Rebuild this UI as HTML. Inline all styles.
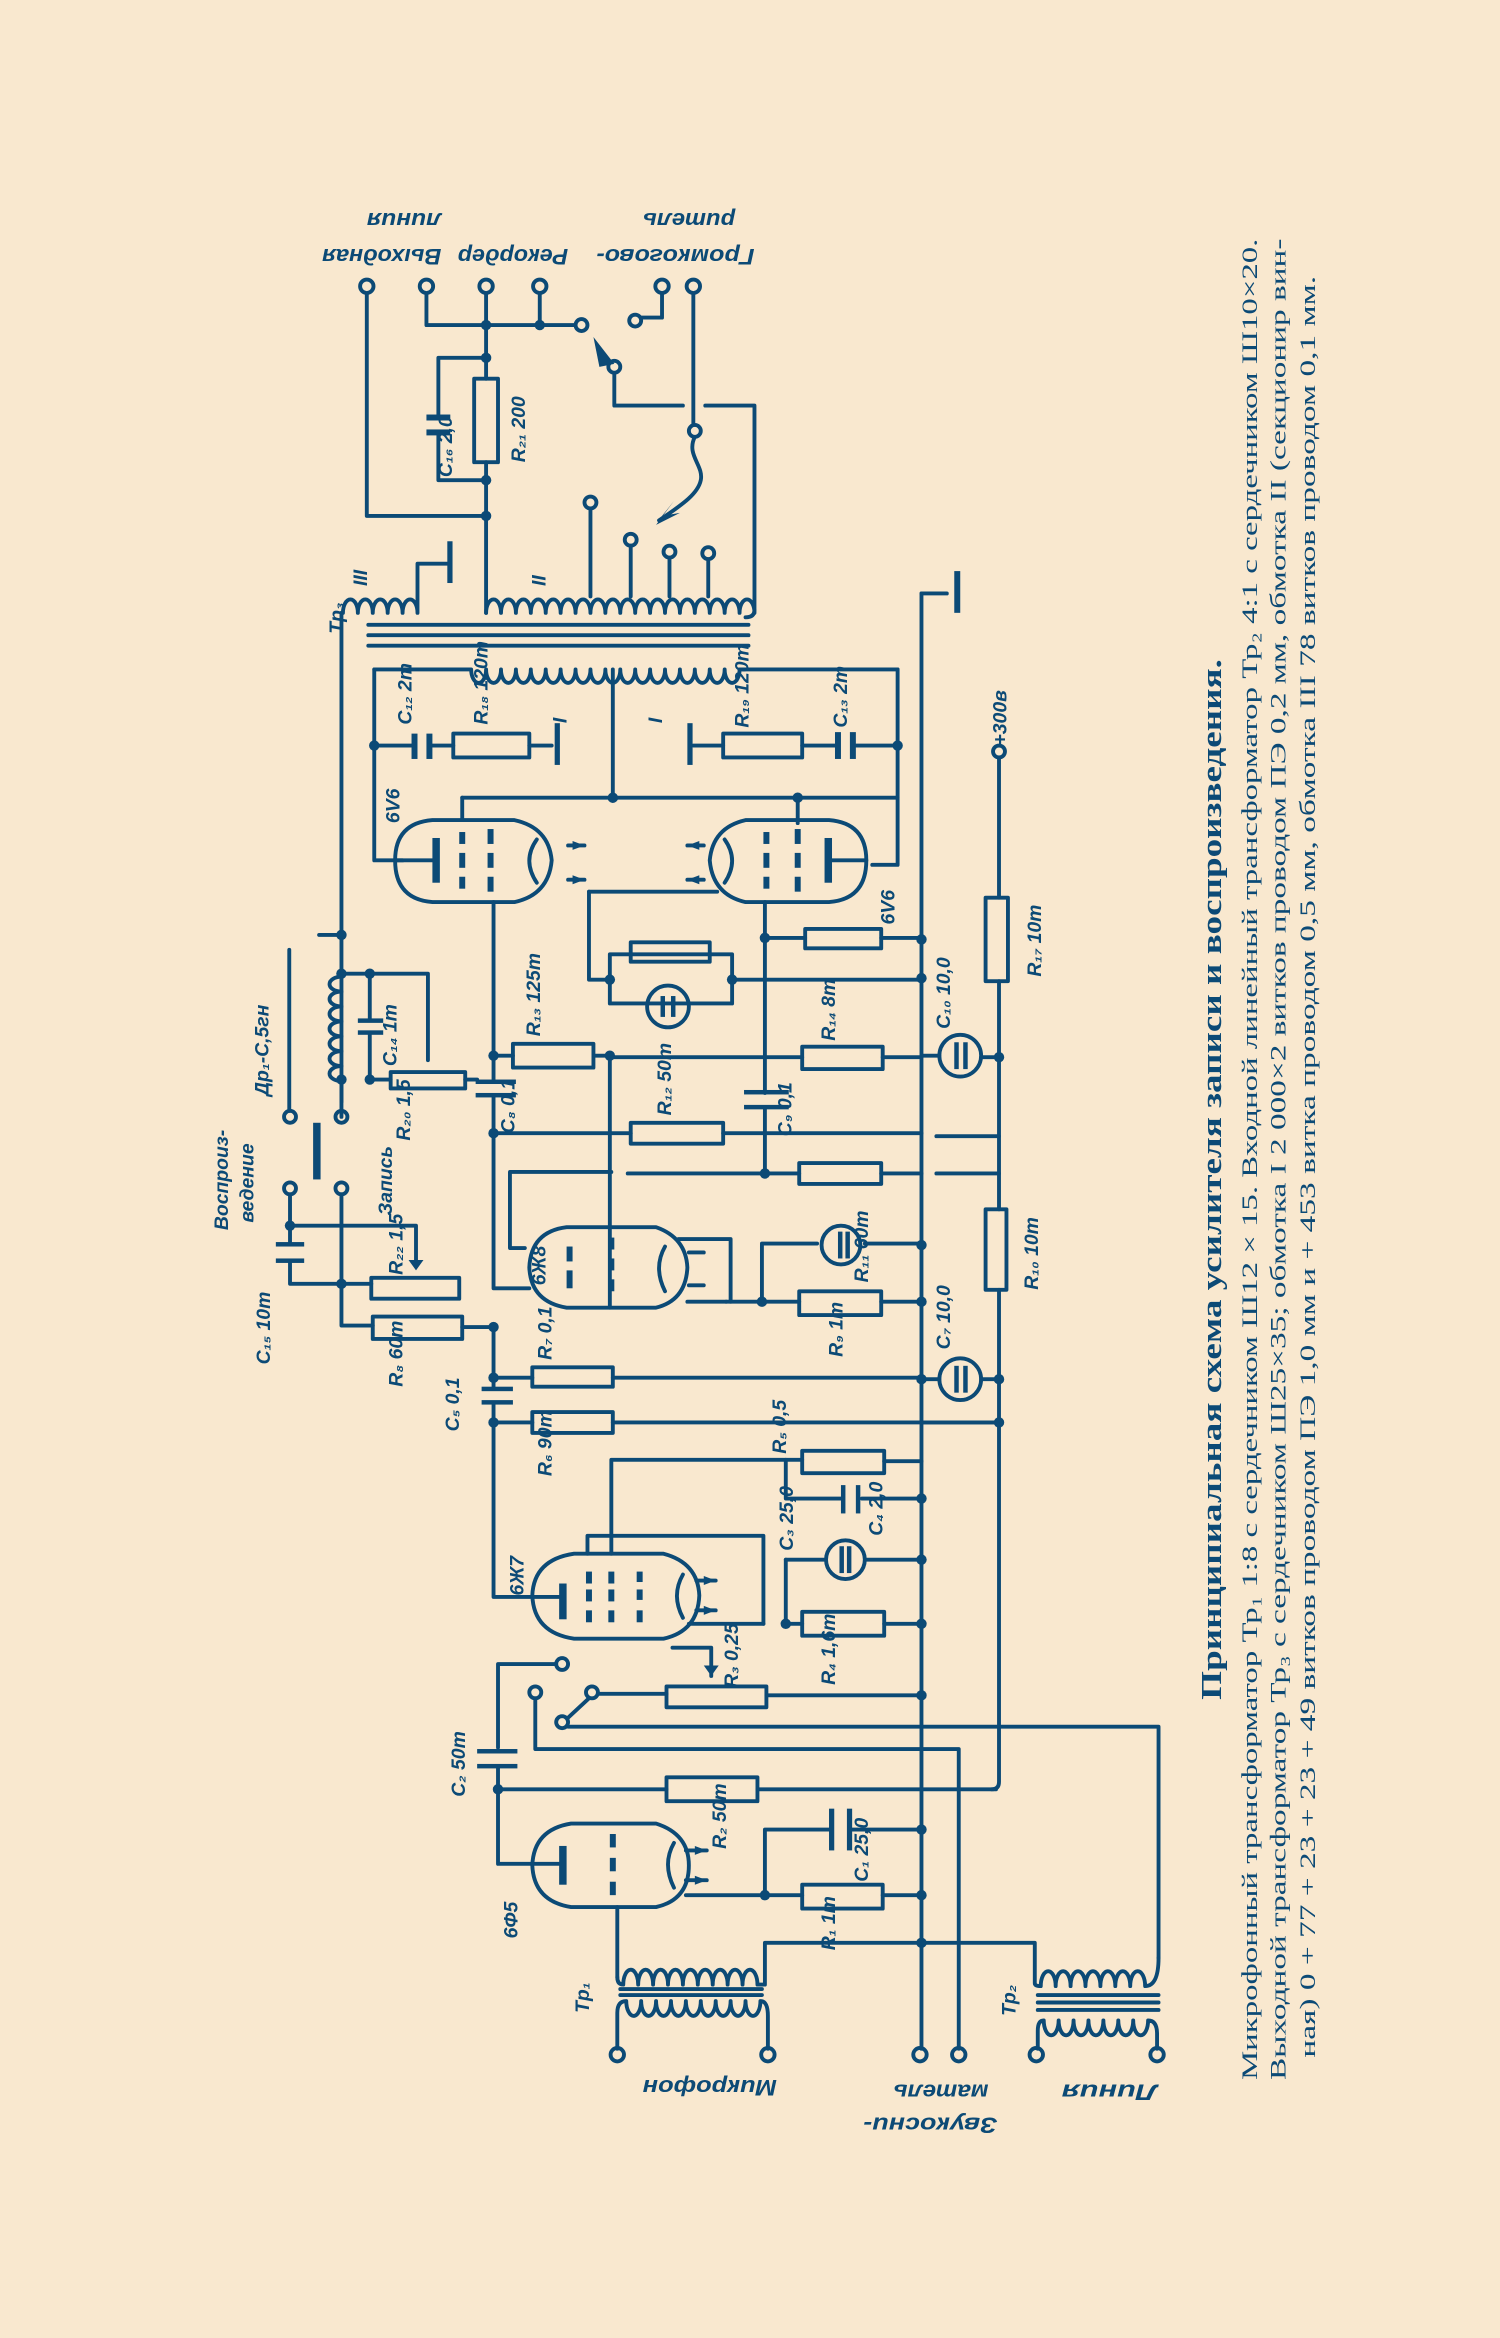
<!DOCTYPE html>
<html><head><meta charset="utf-8">
<style>
html,body{margin:0;padding:0;background:#f9e8cf;}
svg{display:block;}
.w{fill:none;stroke:#0c4a76;stroke-width:2.6;stroke-linecap:round;stroke-linejoin:round;}
.f{fill:#0c4a76;stroke:none;}
.lb{font-family:"Liberation Sans","DejaVu Sans",sans-serif;font-style:italic;font-weight:bold;fill:#0c4a76;}
.cap{font-family:"Liberation Serif","DejaVu Serif",serif;fill:#0c4a76;}
</style></head>
<body>
<svg width="1500" height="2338" viewBox="0 0 1006 1568" xmlns="http://www.w3.org/2000/svg">
<rect x="0" y="0" width="1006" height="1568" fill="#f9e8cf"/>

<g class="w">
  <circle cx="246" cy="192" r="4.5"/><circle cx="286" cy="192" r="4.5"/><circle cx="326" cy="192" r="4.5"/>
  <circle cx="362" cy="192" r="4.5"/><circle cx="444" cy="192" r="4.5"/><circle cx="465" cy="192" r="4.5"/>
  <path d="M246,197 V346 H326"/>
  <path d="M286,197 V218 H386"/>
  <path d="M362,197 V218"/>
  <path d="M326,197 V254"/>
  <rect x="318" y="254" width="16" height="56"/>
  <path d="M326,310 V411"/>
  <path d="M326,240 H294 V280 M294,290 V322 H326"/>
  <path d="M444,197 V213 H430"/>
  <circle cx="426" cy="215" r="4"/>
  <circle cx="390" cy="218" r="4"/>
  <circle cx="412" cy="246" r="4"/>
  <path d="M412,250 V272 H458"/>
  <path d="M465,197 V285"/>
  <circle cx="466" cy="289" r="4"/>
  <path d="M466,293 C460,305 472,312 470,322 C468,332 455,340 442,349"/>
  <path d="M473,272 H506 V409 Q506,414 500,414"/>
  <circle cx="396" cy="337" r="4"/><path d="M396,341 V400"/>
  <circle cx="423" cy="362" r="4"/><path d="M423,366 V400"/>
  <circle cx="449" cy="370" r="4"/><path d="M449,374 V400"/>
  <circle cx="475" cy="371" r="4"/><path d="M475,375 V400"/>
  <path d="M326,411 a5,9 0 1,1 10,0 a5,9 0 1,1 10,0 a5,9 0 1,1 10,0 a5,9 0 1,1 10,0 a5,9 0 1,1 10,0 a5,9 0 1,1 10,0 a5,9 0 1,1 10,0 a5,9 0 1,1 10,0 a5,9 0 1,1 10,0 a5,9 0 1,1 10,0 a5,9 0 1,1 10,0 a5,9 0 1,1 10,0 a5,9 0 1,1 10,0 a5,9 0 1,1 10,0 a5,9 0 1,1 10,0 a5,9 0 1,1 10,0 a5,9 0 1,1 10,0 a5,9 0 1,1 10,0"/>
  <path d="M230,411 a5,9 0 1,1 10,0 a5,9 0 1,1 10,0 a5,9 0 1,1 10,0 a5,9 0 1,1 10,0 a5,9 0 1,1 10,0 V378 H300"/>
  <path d="M247,419 H502 M247,426 H502 M247,433 H502"/>
  <path d="M251,449 H316 a5,9 0 1,0 10,0 a5,9 0 1,0 10,0 a5,9 0 1,0 10,0 a5,9 0 1,0 10,0 a5,9 0 1,0 10,0 a5,9 0 1,0 10,0 a5,9 0 1,0 10,0 a5,9 0 1,0 10,0 a5,9 0 1,0 10,0 a5,9 0 1,0 10,0 a5,9 0 1,0 10,0 a5,9 0 1,0 10,0 a5,9 0 1,0 10,0 a5,9 0 1,0 10,0 a5,9 0 1,0 10,0 a5,9 0 1,0 10,0 a5,9 0 1,0 10,0 a5,9 0 1,0 10,0 H602"/>
  <path d="M229,411 V739"/>
  <path d="M214,627 H229"/>
</g>
<g class="f">
  <circle cx="326" cy="218" r="3.5"/><circle cx="362" cy="218" r="3.5"/><circle cx="326" cy="240" r="3.5"/>
  <circle cx="326" cy="322" r="3.5"/><circle cx="326" cy="346" r="3.5"/>
  <rect x="286" y="278" width="16" height="4"/><rect x="286" y="288" width="16" height="4"/>
  <rect x="300" y="363" width="3.5" height="28"/>
  <polygon points="398,226 412,244 402,246"/>
  <polygon points="440,352 452,336 444,346 456,344"/>
</g>

<g class="w">
  <path d="M251,449 V577 H270"/>
  <path d="M251,500 H276 M290,500 H304"/>
  <rect x="304" y="492" width="51" height="16"/>
  <path d="M355,500 H370"/>
  <path d="M411,449 V535"/>
  <path d="M310,535 H602"/>
  <path d="M310,535 V550"/>
  <path d="M602,449 V580 H585"/>
  <path d="M602,500 H574 M560,500 H538"/>
  <rect x="485" y="492" width="53" height="16"/>
  <path d="M485,500 H465"/>
  <path d="M535,535 V552"/>
  <path d="M290,550 H345 Q368,555 370,577 Q368,600 345,605 H290 Q265,603 265,577 Q265,552 290,550 Z"/>
  <path d="M265,577 H292"/>
  <path d="M360,563 Q350,577 360,592" />
  <path d="M381,567 H392 M381,590 H392"/>
  <path d="M500,550 H556 Q581,552 581,577 Q581,603 556,605 H500 Q478,600 476,577 Q478,555 500,550 Z"/>
  <path d="M555,577 H581"/>
  <path d="M486,563 Q496,577 486,592"/>
  <path d="M461,567 H472 M461,590 H472"/>
  <path d="M395,598 H481"/>
  <path d="M331,605 V725 M331,735 V864 H355"/>
  <path d="M395,598 V657 H409"/>
  <path d="M409,640 V673 H491 V640 H409"/>
  <rect x="423" y="632" width="53" height="13"/>
  <circle cx="448" cy="675" r="14"/>
  <path d="M491,657 H618"/>
  <path d="M513,605 V733 M513,743 V787"/>
  <path d="M513,629 H540"/><rect x="540" y="623" width="51" height="13"/><path d="M591,629 H618"/>
  <path d="M331,708 H344"/><rect x="344" y="700" width="54" height="16"/><path d="M398,708 H409 V877"/>
  <path d="M409,709 H538"/><rect x="538" y="702" width="54" height="15"/><path d="M592,709 H618"/>
  <path d="M331,760 H423"/><rect x="423" y="753" width="62" height="14"/><path d="M485,760 H618"/>
  <path d="M421,787 H536"/><rect x="536" y="780" width="55" height="14"/><path d="M591,787 H618"/>
  <path d="M229,653 H287 V711"/>
  <path d="M229,655 a8,5 0 1,0 0,10 a8,5 0 1,0 0,10 a8,5 0 1,0 0,10 a8,5 0 1,0 0,10 a8,5 0 1,0 0,10 a8,5 0 1,0 0,10 a8,5 0 1,0 0,10 V749"/>
  <path d="M248,653 V683 M248,694 V724 H262"/>
  <rect x="262" y="719" width="50" height="11"/>
  <path d="M312,724 H320"/>
  <path d="M194,637 V745"/>
  <circle cx="194.5" cy="749" r="4"/><circle cx="229" cy="749" r="4"/>
  <circle cx="194.5" cy="797" r="4"/><circle cx="229" cy="797" r="4"/>
  <path d="M194.5,801 V833 M194.5,847 V861 H249"/>
  <path d="M194.5,822 H279 V848"/>
  <rect x="249" y="857" width="59" height="14"/>
  <path d="M229,801 V889 H250"/>
  <rect x="250" y="883" width="60" height="15"/>
  <path d="M310,890 H331"/>
  <path d="M331,888 V931 M331,941 V1071 H357"/>
  <path d="M331,924 H357"/><rect x="357" y="917" width="54" height="13"/><path d="M411,924 H618"/>
  <path d="M331,954 H357"/><rect x="357" y="947" width="54" height="14"/><path d="M411,954 H668"/>
  <path d="M380,823 H440 Q460,830 461,850 Q460,872 440,877 H380 Q356,873 355,850 Q356,826 380,823 Z"/>
  <path d="M342,786 H410 M342,786 V837 H352"/>
  <path d="M446,836 Q438,850 446,866"/>
  <path d="M455,831 H490 V873"/>
  <path d="M462,840 H472 M462,862 H472"/>
  <path d="M511,834 H548 M511,834 V873"/>
  <circle cx="564" cy="835" r="13"/>
  <path d="M580,834 H618"/>
  <path d="M487,873 H536"/><rect x="536" y="866" width="55" height="16"/><path d="M591,873 H618"/>
  <path d="M461,873 H487"/>
  <path d="M385,1042 H445 Q468,1048 469,1070 Q468,1094 445,1099 H385 Q358,1095 357,1070 Q358,1046 385,1042 Z"/>
  <path d="M357,1071 H375"/>
  <path d="M394,1042 V1030 H512 V1089"/>
  <path d="M410,1042 V979 H538"/><rect x="538" y="973" width="55" height="15"/><path d="M593,980 H618"/>
  <path d="M527,979 V1005 H565 M578,1005 H618"/>
  <path d="M527,1046 H553"/><circle cx="567" cy="1046" r="13"/><path d="M581,1046 H618"/>
  <path d="M527,1046 V1089 H538"/><rect x="538" y="1081" width="55" height="16"/><path d="M593,1089 H618"/>
  <path d="M458,1056 Q450,1070 458,1085"/>
  <path d="M462,1089 H512"/>
  <path d="M467,1060 H480 M467,1080 H480"/>
  <path d="M451,1105 H477 V1124"/>
  <rect x="447" y="1131" width="67" height="14"/>
  <path d="M401,1136 H447 M514,1137 H618"/>
  <circle cx="377" cy="1116" r="4"/><circle cx="359" cy="1135" r="4"/>
  <circle cx="397" cy="1135" r="4"/><circle cx="377" cy="1155" r="4"/>
  <path d="M381,1152 L395,1139"/>
  <path d="M381,1158 H777 V1313"/>
  <path d="M359,1139 V1173 H643 V1374"/>
  <path d="M373,1116 H334 V1172 M334,1185 V1250 H357"/>
  <path d="M334,1200 H447"/><rect x="447" y="1192" width="61" height="16"/><path d="M508,1200 H668"/>
  <path d="M383,1223 H440 Q462,1230 462,1251 Q462,1274 440,1279 H383 Q358,1275 357,1251 Q358,1227 383,1223 Z"/>
  <path d="M357,1250 H375"/>
  <path d="M452,1236 Q444,1250 452,1266"/>
  <path d="M460,1241 H474 M460,1261 H474"/>
  <path d="M460,1271 H538"/><rect x="538" y="1264" width="54" height="16"/><path d="M592,1271 H618"/>
  <path d="M513,1271 V1227 H556 M570,1227 H618"/>
  <path d="M414,1279 V1326"/>
  <path d="M414,1326 Q414,1331 418,1331 a5,10 0 1,1 10,0 a5,10 0 1,1 10,0 a5,10 0 1,1 10,0 a5,10 0 1,1 10,0 a5,10 0 1,1 10,0 a5,10 0 1,1 10,0 a5,10 0 1,1 10,0 a5,10 0 1,1 10,0 a5,10 0 1,1 10,0 H513 V1303 H694 V1330 Q694,1332 698,1332 a5,10 0 1,1 10,0 a5,10 0 1,1 10,0 a5,10 0 1,1 10,0 a5,10 0 1,1 10,0 a5,10 0 1,1 10,0 a5,10 0 1,1 10,0 a5,10 0 1,1 10,0 Q777,1332 777,1313"/>
  <path d="M416,1334 H511 M416,1338 H511"/>
  <path d="M414,1374 V1350 Q414,1342 420,1342 a5,10 0 1,0 10,0 a5,10 0 1,0 10,0 a5,10 0 1,0 10,0 a5,10 0 1,0 10,0 a5,10 0 1,0 10,0 a5,10 0 1,0 10,0 a5,10 0 1,0 10,0 a5,10 0 1,0 10,0 a5,10 0 1,0 10,0 Q515,1342 515,1352 V1374"/>
  <path d="M696,1338 H777 M696,1343 H777 M696,1348 H777"/>
  <path d="M696,1374 V1362 Q696,1355 700,1355 a5,10 0 1,0 10,0 a5,10 0 1,0 10,0 a5,10 0 1,0 10,0 a5,10 0 1,0 10,0 a5,10 0 1,0 10,0 a5,10 0 1,0 10,0 a5,10 0 1,0 10,0 Q776,1355 776,1364 V1374"/>
  <circle cx="414" cy="1378" r="4.5"/><circle cx="515" cy="1378" r="4.5"/>
  <circle cx="617" cy="1378" r="4.5"/><circle cx="643" cy="1378" r="4.5"/>
  <circle cx="695" cy="1378" r="4.5"/><circle cx="776" cy="1378" r="4.5"/>
  <path d="M618,398 V1374"/>
  <path d="M618,398 H635"/>
  <path d="M670,508 V602"/><rect x="661" y="602" width="15" height="56"/><path d="M670,658 V811"/>
  <rect x="661" y="811" width="14" height="54"/><path d="M670,865 V1195 Q670,1200 665,1200"/>
  <circle cx="670" cy="504" r="4"/>
  <circle cx="644" cy="708" r="14"/><circle cx="644" cy="925" r="14"/>
  <path d="M618,925 H630 M658,925 H670 M618,954 H670"/>
  <path d="M618,708 H630 M658,709 H670"/>
  <path d="M628,762 H670 M628,787 H670"/>
</g>
<g class="f">
  <circle cx="251" cy="500" r="3.5"/><circle cx="411" cy="535" r="3.5"/><circle cx="535" cy="535" r="3.5"/><circle cx="602" cy="500" r="3.5"/>
  <circle cx="229" cy="627" r="3.5"/><circle cx="229" cy="653" r="3.5"/><circle cx="248" cy="653" r="3.5"/><circle cx="248" cy="724" r="3.5"/><circle cx="229" cy="724" r="3.5"/>
  <circle cx="331" cy="708" r="3.5"/><circle cx="409" cy="708" r="3.5"/><circle cx="409" cy="657" r="3.5"/><circle cx="491" cy="657" r="3.5"/>
  <circle cx="513" cy="629" r="3.5"/><circle cx="513" cy="787" r="3.5"/><circle cx="331" cy="760" r="3.5"/>
  <circle cx="618" cy="630" r="3.5"/><circle cx="618" cy="656" r="3.5"/><circle cx="618" cy="835" r="3.5"/><circle cx="618" cy="873" r="3.5"/><circle cx="618" cy="925" r="3.5"/>
  <circle cx="511" cy="873" r="3.5"/><circle cx="670" cy="709" r="3.5"/><circle cx="670" cy="925" r="3.5"/><circle cx="670" cy="954" r="3.5"/>
  <circle cx="194.5" cy="822" r="3.5"/><circle cx="229" cy="861" r="3.5"/><circle cx="331" cy="890" r="3.5"/><circle cx="331" cy="924" r="3.5"/><circle cx="331" cy="954" r="3.5"/>
  <circle cx="618" cy="1005" r="3.5"/><circle cx="618" cy="1046" r="3.5"/><circle cx="618" cy="1089" r="3.5"/><circle cx="527" cy="1089" r="3.5"/><circle cx="618" cy="1137" r="3.5"/>
  <circle cx="334" cy="1200" r="3.5"/><circle cx="513" cy="1271" r="3.5"/><circle cx="618" cy="1271" r="3.5"/><circle cx="618" cy="1227" r="3.5"/><circle cx="618" cy="1303" r="3.5"/>
  <rect x="276" y="492" width="4" height="17"/><rect x="286" y="492" width="4" height="17"/>
  <rect x="560" y="491" width="4" height="18"/><rect x="570" y="491" width="4" height="18"/>
  <rect x="372" y="485" width="3.5" height="28"/><rect x="461" y="485" width="3.5" height="28"/>
  <rect x="640" y="383" width="4" height="28"/>
  <rect x="290" y="562" width="5" height="30"/>
  <rect x="308" y="558" width="4" height="8"/><rect x="308" y="572" width="4" height="10"/><rect x="308" y="588" width="4" height="8"/>
  <rect x="327" y="556" width="4" height="10"/><rect x="327" y="572" width="4" height="10"/><rect x="327" y="588" width="4" height="10"/>
  <rect x="553" y="562" width="5" height="30"/>
  <rect x="512" y="558" width="4" height="8"/><rect x="512" y="572" width="4" height="10"/><rect x="512" y="588" width="4" height="8"/>
  <rect x="533" y="556" width="4" height="10"/><rect x="533" y="572" width="4" height="10"/><rect x="533" y="588" width="4" height="10"/>
  <rect x="240" y="683" width="17" height="3"/><rect x="240" y="691" width="17" height="3"/>
  <rect x="319" y="724" width="27" height="3"/><rect x="319" y="733" width="27" height="3"/>
  <rect x="499" y="731" width="30" height="3"/><rect x="499" y="741" width="30" height="3"/>
  <rect x="185" y="833" width="19" height="3"/><rect x="185" y="844" width="19" height="3"/>
  <rect x="210" y="753" width="5" height="38"/>
  <rect x="323" y="930" width="21" height="3"/><rect x="323" y="939" width="21" height="3"/>
  <rect x="564" y="996" width="3" height="19"/><rect x="574" y="996" width="3" height="19"/>
  <rect x="320" y="1173" width="27" height="3"/><rect x="320" y="1183" width="27" height="3"/>
  <rect x="556" y="1213" width="3.5" height="28"/><rect x="568" y="1213" width="3.5" height="28"/>
  <rect x="375" y="1062" width="5" height="24"/>
  <rect x="393" y="1054" width="4" height="8"/><rect x="393" y="1066" width="4" height="8"/><rect x="393" y="1080" width="4" height="8"/>
  <rect x="408" y="1054" width="4" height="8"/><rect x="408" y="1066" width="4" height="8"/><rect x="408" y="1080" width="4" height="8"/>
  <rect x="427" y="1054" width="4" height="7"/><rect x="427" y="1066" width="4" height="7"/><rect x="427" y="1080" width="4" height="8"/>
  <rect x="375" y="1238" width="5" height="26"/>
  <rect x="409" y="1230" width="4" height="9"/><rect x="409" y="1246" width="4" height="9"/><rect x="409" y="1262" width="4" height="9"/>
  <rect x="380" y="836" width="4" height="10"/><rect x="380" y="852" width="4" height="12"/>
  <rect x="408" y="830" width="4" height="8"/><rect x="408" y="844" width="4" height="8"/><rect x="408" y="858" width="4" height="8"/>
  <rect x="562" y="826" width="3" height="18"/><rect x="567" y="826" width="3" height="18"/>
  <rect x="563" y="1037" width="3" height="18"/><rect x="568" y="1037" width="3" height="18"/>
  <rect x="640" y="699" width="3" height="18"/><rect x="646" y="699" width="3" height="18"/>
  <rect x="640" y="916" width="3" height="18"/><rect x="646" y="916" width="3" height="18"/>
  <rect x="443" y="668" width="3" height="14"/><rect x="450" y="668" width="3" height="14"/>
  <polygon points="274,845 284,845 279,852"/>
  <polygon points="472,1117 482,1117 477,1124"/>
  <polygon points="392,567 384,564 384,570"/><polygon points="392,590 384,587 384,593"/>
  <polygon points="461,567 469,564 469,570"/><polygon points="461,590 469,587 469,593"/>
  <polygon points="480,1060 472,1057 472,1063"/><polygon points="480,1080 472,1077 472,1083"/>
  <polygon points="474,1241 466,1238 466,1244"/><polygon points="474,1261 466,1258 466,1264"/>
</g>

<g class="lb" font-size="15">
  <text transform="translate(256,167) rotate(180)" text-anchor="middle" textLength="80" lengthAdjust="spacingAndGlyphs">Выходная</text>
  <text transform="translate(271,143) rotate(180)" text-anchor="middle" textLength="50" lengthAdjust="spacingAndGlyphs">линия</text>
  <text transform="translate(344,167) rotate(180)" text-anchor="middle" textLength="74" lengthAdjust="spacingAndGlyphs">Рекордер</text>
  <text transform="translate(453,167) rotate(180)" text-anchor="middle" textLength="106" lengthAdjust="spacingAndGlyphs">Громкогово-</text>
  <text transform="translate(462,143) rotate(180)" text-anchor="middle" textLength="62" lengthAdjust="spacingAndGlyphs">ритель</text>
  <text transform="translate(476,1395) rotate(180)" text-anchor="middle" textLength="90" lengthAdjust="spacingAndGlyphs">Микрофон</text>
  <text transform="translate(624,1420) rotate(180)" text-anchor="middle" textLength="90" lengthAdjust="spacingAndGlyphs">Звукосни-</text>
  <text transform="translate(631,1398) rotate(180)" text-anchor="middle" textLength="64" lengthAdjust="spacingAndGlyphs">матель</text>
  <text transform="translate(744,1398) rotate(180)" text-anchor="middle" textLength="64" lengthAdjust="spacingAndGlyphs">Линия</text>
</g>
<g class="lb" font-size="13">
  <text transform="translate(303,320) rotate(-90)">C₁₆ 2,0</text>
  <text transform="translate(352,310) rotate(-90)">R₂₁ 200</text>
  <text transform="translate(246,393) rotate(-90)">III</text>
  <text transform="translate(366,393) rotate(-90)">II</text>
  <text transform="translate(230,425) rotate(-90)">Tp₃</text>
  <text transform="translate(276,486) rotate(-90)">C₁₂ 2m</text>
  <text transform="translate(327,486) rotate(-90)">R₁₈ 120m</text>
  <text transform="translate(380,485) rotate(-90)">I</text>
  <text transform="translate(444,485) rotate(-90)">I</text>
  <text transform="translate(502,488) rotate(-90)">R₁₉ 120m</text>
  <text transform="translate(568,488) rotate(-90)">C₁₃ 2m</text>
  <text transform="translate(268,552) rotate(-90)">6V6</text>
  <text transform="translate(600,620) rotate(-90)">6V6</text>
  <text transform="translate(362,695) rotate(-90)">R₁₃ 125m</text>
  <text transform="translate(560,698) rotate(-90)">R₁₄ 8m</text>
  <text transform="translate(637,690) rotate(-90)">C₁₀ 10,0</text>
  <text transform="translate(698,655) rotate(-90)">R₁₇ 10m</text>
  <text transform="translate(696,865) rotate(-90)">R₁₀ 10m</text>
  <text transform="translate(675,500) rotate(-90)">+300в</text>
  <text transform="translate(345,760) rotate(-90)">C₈ 0,1</text>
  <text transform="translate(450,748) rotate(-90)">R₁₂ 50m</text>
  <text transform="translate(531,762) rotate(-90)">C₉ 0,1</text>
  <text transform="translate(180,735) rotate(-90)">Др₁-С,5гн</text>
  <text transform="translate(266,715) rotate(-90)">C₁₄ 1m</text>
  <text transform="translate(275,765) rotate(-90)">R₂₀ 1,5</text>
  <text transform="translate(153,825) rotate(-90)">Воспроиз-</text>
  <text transform="translate(170,820) rotate(-90)">ведение</text>
  <text transform="translate(263,815) rotate(-90)">Запись</text>
  <text transform="translate(270,855) rotate(-90)">R₂₂ 1,5</text>
  <text transform="translate(181,915) rotate(-90)">C₁₅ 10m</text>
  <text transform="translate(270,930) rotate(-90)">R₈ 60m</text>
  <text transform="translate(308,960) rotate(-90)">C₅ 0,1</text>
  <text transform="translate(370,912) rotate(-90)">R₇ 0,1</text>
  <text transform="translate(370,990) rotate(-90)">R₆ 90m</text>
  <text transform="translate(366,862) rotate(-90)">6Ж8</text>
  <text transform="translate(582,860) rotate(-90)">R₁₁ 60m</text>
  <text transform="translate(565,910) rotate(-90)">R₉ 1m</text>
  <text transform="translate(637,905) rotate(-90)">C₇ 10,0</text>
  <text transform="translate(527,975) rotate(-90)">R₅ 0,5</text>
  <text transform="translate(532,1040) rotate(-90)">C₃ 25,0</text>
  <text transform="translate(592,1030) rotate(-90)">C₄ 2,0</text>
  <text transform="translate(351,1070) rotate(-90)">6Ж7</text>
  <text transform="translate(495,1132) rotate(-90)">R₃ 0,25</text>
  <text transform="translate(560,1130) rotate(-90)">R₄ 1,6m</text>
  <text transform="translate(312,1205) rotate(-90)">C₂ 50m</text>
  <text transform="translate(487,1240) rotate(-90)">R₂ 50m</text>
  <text transform="translate(582,1262) rotate(-90)">C₁ 25,0</text>
  <text transform="translate(560,1308) rotate(-90)">R₁ 1m</text>
  <text transform="translate(347,1300) rotate(-90)">6Ф5</text>
  <text transform="translate(395,1350) rotate(-90)">Tp₁</text>
  <text transform="translate(681,1352) rotate(-90)">Tp₂</text>
</g>

<g class="cap">
  <text transform="translate(819,1140) rotate(-90)" font-size="19" font-weight="bold" textLength="698" lengthAdjust="spacingAndGlyphs">Принципиальная схема усилителя записи и воспроизведения.</text>
  <text transform="translate(843,1395) rotate(-90)" font-size="15" textLength="1235" lengthAdjust="spacingAndGlyphs">Микрофонный трансформатор Тр₁ 1:8 с сердечником Ш12 × 15. Входной линейный трансформатор Тр₂ 4:1 с сердечником Ш10×20.</text>
  <text transform="translate(862,1395) rotate(-90)" font-size="15" textLength="1235" lengthAdjust="spacingAndGlyphs">Выходной трансформатор Тр₃ с сердечником Ш25×35; обмотка I 2 000×2 витков проводом ПЭ 0,2 мм, обмотка II (секционир вин-</text>
  <text transform="translate(882,1380) rotate(-90)" font-size="15" textLength="1195" lengthAdjust="spacingAndGlyphs">ная) 0 + 77 + 23 + 23 + 49 витков проводом ПЭ 1,0 мм и + 453 витка проводом 0,5 мм, обмотка III 78 витков проводом 0,1 мм.</text>
</g>
</svg>
</body></html>
